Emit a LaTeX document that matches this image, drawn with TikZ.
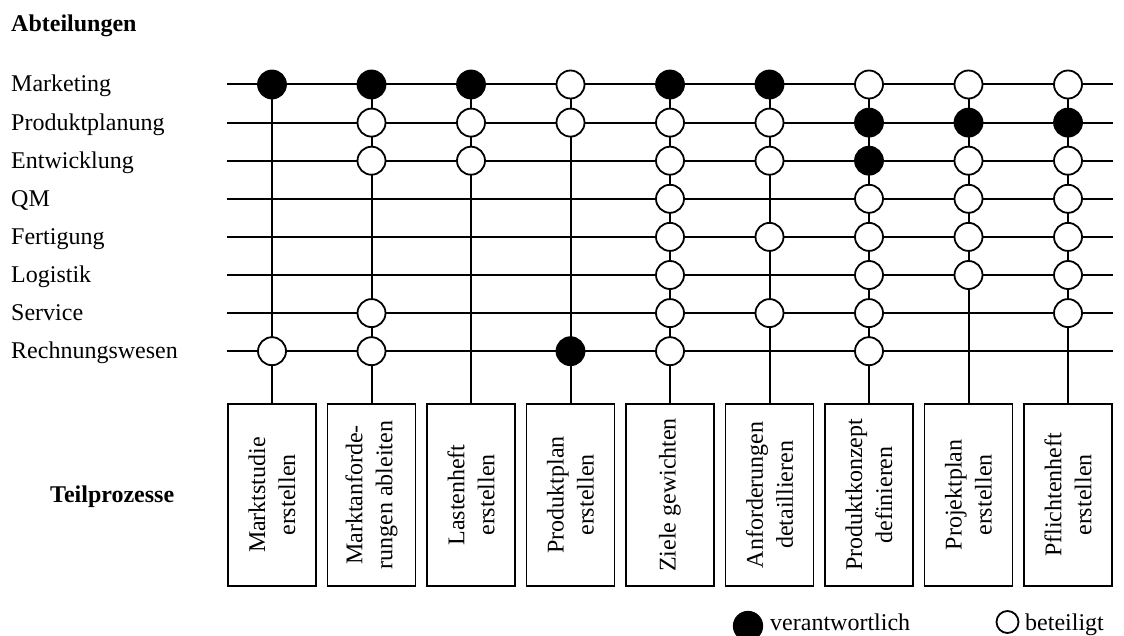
\documentclass[tikz,border=0pt]{standalone}
\usepackage{fontspec}
\setmainfont{Liberation Serif}
\usetikzlibrary{backgrounds}
\begin{document}
\begin{tikzpicture}[x=1pt,y=-1pt,
  every node/.style={font=\fontsize{24}{30}\selectfont},
  conn/.style={line width=2pt},
  resp/.style={circle, draw, fill=black, line width=1.8pt, minimum size=28pt, inner sep=0pt},
  part/.style={circle, draw, fill=white, line width=1.8pt, minimum size=28pt, inner sep=0pt},
  taskbox/.style={draw, line width=1.8pt, rotate=90, minimum width=182pt,
    minimum height=88pt, align=center, inner sep=2pt},
  dept/.style={anchor=base west, inner sep=0pt},
  heading/.style={dept, font=\fontsize{24}{30}\selectfont\bfseries},
]
\useasboundingbox (0,0) rectangle (1124,636);

% headings
\node[heading] (hdept) at (11,32) {Abteilungen};
\node[heading] (hproc) at (50,502) {Teilprozesse};

% departments (rows)
\foreach \i/\name in {1/Marketing,2/Produktplanung,3/Entwicklung,4/QM,
                      5/Fertigung,6/Logistik,7/Service,8/Rechnungswesen} {
  \pgfmathsetmacro\yy{84.5+(\i-1)*38.1}
  \node[dept] (d\i) at (11,\yy+7.5) {\name};
  \coordinate (rs\i) at (227,\yy);
  \coordinate (re\i) at (1113,\yy);
}

% sub-processes (columns)
\foreach \j/\txt in {1/{Marktstudie\\erstellen},
                     2/{Marktanforde-\\rungen ableiten},
                     3/{Lastenheft\\erstellen},
                     4/{Produktplan\\erstellen},
                     5/{Ziele gewichten},
                     6/{Anforderungen\\detaillieren},
                     7/{Produktkonzept\\definieren},
                     8/{Projektplan\\erstellen},
                     9/{Pflichtenheft\\erstellen}} {
  \pgfmathsetmacro\xx{272+(\j-1)*99.5}
  \node[taskbox] (t\j) at (\xx,495) {\txt};
}

% involvement of each department in each sub-process
\foreach \j/\i/\kind in {
    1/1/resp, 1/8/part,
    2/1/resp, 2/2/part, 2/3/part, 2/7/part, 2/8/part,
    3/1/resp, 3/2/part, 3/3/part,
    4/1/part, 4/2/part, 4/8/resp,
    5/1/resp, 5/2/part, 5/3/part, 5/4/part, 5/5/part, 5/6/part, 5/7/part, 5/8/part,
    6/1/resp, 6/2/part, 6/3/part, 6/5/part, 6/7/part,
    7/1/part, 7/2/resp, 7/3/resp, 7/4/part, 7/5/part, 7/6/part, 7/7/part, 7/8/part,
    8/1/part, 8/2/resp, 8/3/part, 8/4/part, 8/5/part, 8/6/part,
    9/1/part, 9/2/resp, 9/3/part, 9/4/part, 9/5/part, 9/6/part, 9/7/part} {
  \node[\kind] (c\j-\i) at ({272+(\j-1)*99.5},{84.5+(\i-1)*38.1}) {};
}

% grid lines behind the circles
\begin{pgfonlayer}{background}
  \foreach \i in {1,...,8} \draw[conn] (rs\i) -- (re\i);
  \foreach \j in {1,...,9} \draw[conn] (c\j-1.center) -- (t\j);
\end{pgfonlayer}

% legend
\node[resp, minimum size=28.5pt] (lgR) at (748,626) {};
\node[dept] (lgRt) at (770,630) {verantwortlich};
\node[part, minimum size=22pt] (lgP) at (1007.5,622) {};
\node[dept] (lgPt) at (1025,630) {beteiligt};
\end{tikzpicture}
\end{document}
